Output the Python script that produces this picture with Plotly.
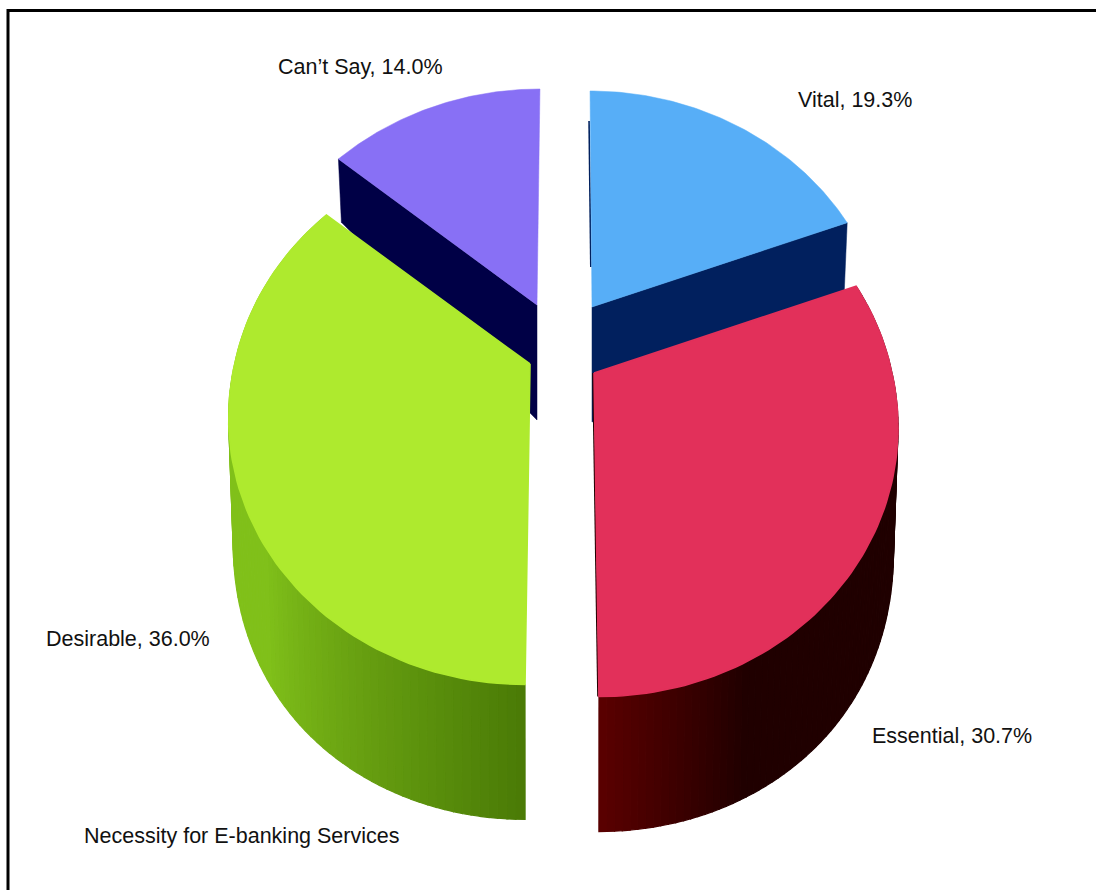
import numpy as np
import plotly.graph_objects as go

# Survey shares, clockwise from twelve o'clock
labels = ["Vital", "Essential", "Desirable", "Can\u2019t Say"]
shares = [19.3, 30.7, 36.0, 14.0]
chart_title = "Necessity for E-banking Services"

top_colors = ["#57aef7", "#e2305a", "#aeea2e", "#8870f5"]
face_colors = ["#01205e", "#200000", "#4b7a08", "#000046"]
# Outer wall shading: colour at the cut edge, colour further round, and how soon it turns
wall_ramps = {1: [(90, 0, 0), (32, 0, 0), 0.22], 2: [(74, 122, 6), (128, 192, 26), 0.40]}

# Label anchor positions in the page frame
label_xy = {"Vital": (855, 100), "Essential": (952, 736),
            "Desirable": (128, 639), "Can\u2019t Say": (360, 67)}
title_xy = (241, 836)
LABEL_FONT = dict(family="Liberation Sans", size=21.5, color="#111111")

# Pie projection: base scale, perspective strength, per-slice apex, scale and lean
RX, RY, K = 291.0, 256.0, 0.185
APEX = [(592, 307), (594, 373), (530, 364), (537, 305)]
SCALE_X = [1.0, 1.024, 1.015, 1.0]
SCALE_Y = [1.0, 1.03, 1.02, 1.0]
LEAN = [0.009, 0.0154, -0.0156, -0.0136]
FRONT = (1, 2)
WALL_X = 0.985


def project(i, theta):
    """Screen position of a rim point on the top face of slice i."""
    ax, ay = APEX[i]
    X, Y = np.sin(theta), -np.cos(theta)
    w = 1.0 / (1.0 - K * Y)
    dy = RY * SCALE_Y[i] * Y * w
    # front slices only lean below their apex
    lean_dy = np.maximum(dy, 0) if i in FRONT else dy
    return ax + RX * SCALE_X[i] * X * w + LEAN[i] * lean_dy, ay + dy


def wall_drop(theta):
    """Visible wall height, which grows toward the viewer."""
    Y = -np.cos(theta)
    return 115.0 + 57.3 * Y - 37.3 * Y * Y


def lower(i, theta):
    ax = APEX[i][0]
    x, y = project(i, theta)
    return ax + (x - ax) * WALL_X, y + wall_drop(theta)


def polygon(xs, ys, color, edge=0.5):
    return go.Scatter(x=xs, y=ys, mode="lines", fill="toself", fillcolor=color,
                      line=dict(color=color, width=edge), hoverinfo="skip", showlegend=False)


def edge_line(x0, y0, x1, y1, color):
    return go.Scatter(x=[x0, x1], y=[y0, y1], mode="lines", line=dict(color=color, width=1.6),
                      hoverinfo="skip", showlegend=False)


def mix(a, b, t):
    return "rgb(%d,%d,%d)" % tuple(round(a[c] + (b[c] - a[c]) * t) for c in range(3))


edges = 2 * np.pi * np.cumsum([0] + shares) / sum(shares)
fig = go.Figure()
APEX_DROP = wall_drop(np.pi / 2)

# Rear slices first: their cut faces sit behind the front pair
for i in (0, 3):
    ax, ay = APEX[i]
    th = edges[i + 1] if i == 0 else edges[i]
    rx, ry = project(i, th)
    lx, ly = lower(i, th)
    fig.add_trace(polygon([ax, rx, lx, ax, ax], [ay, ry, ly, ay + APEX_DROP, ay], face_colors[i]))
    if i == 0:
        # sliver of the inner cut along the left of the first slice
        x0, y0 = project(i, edges[i] + 0.0)
        fig.add_trace(edge_line(ax - 1.2, ay - 40, x0 - 1.0, y0 + 30, face_colors[i]))
    t = np.linspace(edges[i], edges[i + 1], 80)
    px, py = project(i, t)
    fig.add_trace(polygon(np.r_[ax, px, ax], np.r_[ay, py, ay], top_colors[i]))

# Front slices: curved wall in shaded strips, then the top face
for i in FRONT:
    ax, ay = APEX[i]
    start, end, reach = wall_ramps[i]
    t = np.linspace(edges[i], edges[i + 1], 90)
    for j in range(len(t) - 1):
        a, b = t[j], t[j + 1]
        tx, ty = project(i, np.array([a, b]))
        bx, by = lower(i, np.array([a, b]))
        # distance round the rim from the central cut
        d = abs(np.pi - (a + b) / 2) / (edges[i + 1] - edges[i])
        col = mix(start, end, min(1.0, d / reach))
        fig.add_trace(polygon([tx[0], tx[1], bx[1], bx[0], tx[0]],
                              [ty[0], ty[1], by[1], by[0], ty[0]], col, edge=1.2))
    px, py = project(i, t)
    if i == 1:
        # thin dark cut running down the left of the slice
        fig.add_trace(edge_line(ax - 1, ay, px[-1] - 1, py[-1], face_colors[i]))
    fig.add_trace(polygon(np.r_[ax, px, ax], np.r_[ay, py, ay], top_colors[i], edge=1.6))

# Slice labels
for name, share in zip(labels, shares):
    x, y = label_xy[name]
    fig.add_annotation(x=x, y=y, text=f"{name}, {share:.1f}%", showarrow=False, font=LABEL_FONT)
fig.add_annotation(x=title_xy[0], y=title_xy[1], text=chart_title, showarrow=False, font=LABEL_FONT)

# Frame along the top and left of the page
fig.add_shape(type="line", x0=7, y0=10.5, x1=1096, y1=10.5, line=dict(color="#000000", width=3))
fig.add_shape(type="line", x0=8, y0=9, x1=8, y1=890, line=dict(color="#000000", width=3))

fig.update_layout(
    width=1096, height=890, margin=dict(l=0, r=0, t=0, b=0),
    plot_bgcolor="white", paper_bgcolor="white", showlegend=False,
    xaxis=dict(range=[0, 1096], visible=False, fixedrange=True),
    yaxis=dict(range=[890, 0], visible=False, fixedrange=True),
)
fig.write_html("out.html", config={"displayModeBar": False})
